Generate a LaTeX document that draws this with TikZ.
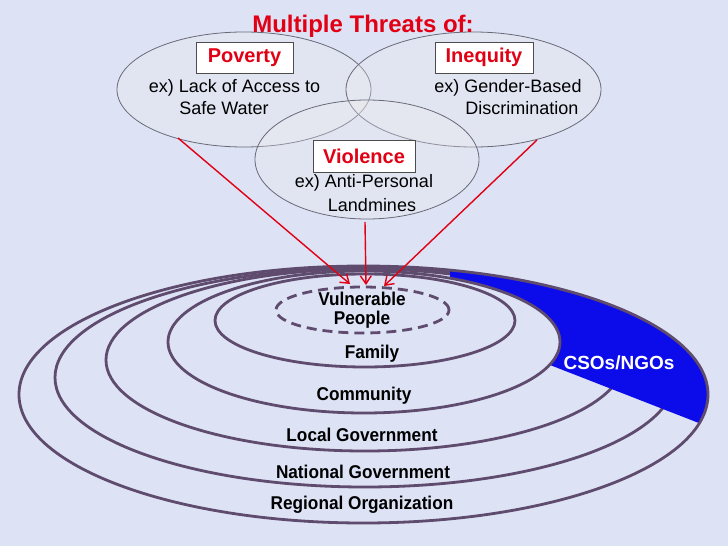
\documentclass[tikz,border=0pt]{standalone}
\usepackage{fontspec}
\setmainfont{Liberation Sans}
\usetikzlibrary{arrows.meta}
\definecolor{bg}{RGB}{221,226,245}
\definecolor{ringc}{RGB}{95,75,110}
\definecolor{ngo}{RGB}{12,12,235}
\definecolor{threat}{RGB}{225,0,20}
\definecolor{vennline}{RGB}{105,105,120}
\newcommand{\lvltext}[1]{\scalebox{0.93}[1]{#1}}
\begin{document}
\begin{tikzpicture}[x=1pt,y=-1pt,
  ring/.style={draw=ringc,line width=2.8pt},
  venn/.style={draw=vennline,line width=0.8pt,fill=white!85!gray,fill opacity=0.3},
  tbox/.style={draw=black!70,fill=white,line width=0.8pt,minimum height=31pt,inner sep=0pt,text=threat,font=\bfseries\fontsize{20}{20}\selectfont},
  extext/.style={font=\fontsize{18}{18}\selectfont,inner sep=0pt},
  lvl/.style={font=\bfseries\fontsize{18.5}{18.5}\selectfont,inner sep=0pt},
  threatarrow/.style={draw=threat,line width=1.4pt,-{Straight Barb[length=8pt,width=11pt]}}
]
\fill[bg] (0,0) rectangle (728,546);
\useasboundingbox (0,0) rectangle (728,546);

% concentric rings
\draw[ring] (365,320.5) ellipse [x radius=150pt,y radius=46.5pt];
\draw[ring] (365,360) ellipse [x radius=259pt,y radius=91pt];
\draw[ring] (365,377.5) ellipse [x radius=310pt,y radius=109.5pt];

% CSOs/NGOs region
\begin{scope}
  \clip (450,250) -- (745,250) -- (745,441) -- (550,365) -- (500,340) -- (450,300) -- cycle;
  \fill[ngo,even odd rule] (363.5,394.5) ellipse [x radius=344.5pt,y radius=128.5pt]
                          (364,342) ellipse [x radius=196pt,y radius=71pt];
\end{scope}
\draw[ring] (364,342) ellipse [x radius=196pt,y radius=71pt];
\draw[ring] (363.5,394.5) ellipse [x radius=344.5pt,y radius=128.5pt];

% vulnerable people
\draw[ring,dash pattern=on 10pt off 6pt] (362.5,310) ellipse [x radius=86.5pt,y radius=23pt];

\node[lvl] (vul) at (362,299) {\lvltext{Vulnerable}};
\node[lvl] (ppl) at (362,320) {\lvltext{People}};
\node[lvl] (fam) at (372,354) {\lvltext{Family}};
\node[lvl] (com) at (364,396) {\lvltext{Community}};
\node[lvl] (lg) at (362,435) {\lvltext{Local Government}};
\node[lvl] (ng) at (363,472) {\lvltext{National Government}};
\node[lvl] (ro) at (362,505) {\lvltext{Regional Organization}};
\node[lvl,text=white,font=\bfseries\fontsize{19}{19}\selectfont] (ngos) at (619,363) {CSOs/NGOs};

% threats venn
\draw[venn] (244,89.5) ellipse [x radius=127pt,y radius=57.5pt];
\draw[venn] (473.5,89.5) ellipse [x radius=127.5pt,y radius=57.5pt];
\draw[venn] (367,159.5) ellipse [x radius=112pt,y radius=59.5pt];

\node[text=threat,font=\bfseries\fontsize{24}{24}\selectfont,inner sep=0pt] (title) at (363,26) {Multiple Threats of:};

\node[tbox,minimum width=97pt] (pov) at (244.5,57.5) {Poverty};
\node[tbox,minimum width=98pt] (ineq) at (484,57.5) {Inequity};
\node[tbox,minimum width=102pt,minimum height=32pt] (viol) at (364,156) {Violence};

\node[extext] (pov1) at (234.5,88) {ex) Lack of Access to};
\node[extext] (pov2) at (224,108.5) {Safe Water};
\node[extext] (ineq1) at (508,88) {ex) Gender-Based};
\node[extext] (ineq2) at (522,108.5) {Discrimination};
\node[extext] (viol1) at (364,182.5) {ex) Anti-Personal};
\node[extext] (viol2) at (372,205) {Landmines};

% arrows
\coordinate (a1s) at (178,138);
\coordinate (a1e) at (350,284);
\coordinate (a2s) at (365,222);
\coordinate (a2e) at (366,285);
\coordinate (a3s) at (537,140);
\coordinate (a3e) at (384,286);
\draw[threatarrow] (a1s) -- (a1e);
\draw[threatarrow] (a2s) -- (a2e);
\draw[threatarrow] (a3s) -- (a3e);
\end{tikzpicture}
\end{document}
